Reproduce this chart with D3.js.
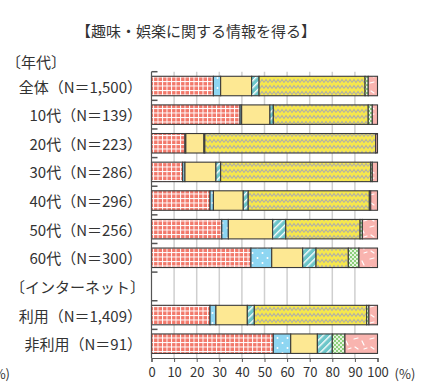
<!DOCTYPE html>
<html>
<head>
<meta charset="utf-8">
<script src="https://cdn.jsdelivr.net/npm/d3@7"></script>
<style>
  html, body { margin: 0; padding: 0; background: #fff; }
  svg { display: block; font-family: "Noto Sans CJK JP", sans-serif; }
</style>
</head>
<body>
<div id="chart"></div>
<script>
// ── Data ────────────────────────────────────────────────────────────────
const rowLabels = [
  '全体（N＝1,500）', '10代（N＝139）', '20代（N＝223）', '30代（N＝286）',
  '40代（N＝296）', '50代（N＝256）', '60代（N＝300）',
  null, // 〔インターネット〕 header slot
  '利用（N＝1,409）', '非利用（N＝91）'
];
const seriesKeys = ['s1', 's2', 's3', 's4', 's5', 's6', 's7'];
const values = [
  [27.4, 3.2, 13.7, 3.3, 46.9, 1.4, 4.1],
  [39.2, 0.7, 12.5, 1.5, 42.0, 1.8, 2.3],
  [14.8, 0.4, 8.0, 0.4, 75.6, 0.0, 0.8],
  [13.8, 1.0, 13.7, 2.1, 66.4, 0.7, 2.3],
  [25.9, 1.5, 13.2, 2.2, 53.6, 0.6, 3.0],
  [31.1, 2.9, 19.6, 5.8, 32.9, 1.0, 6.7],
  [44.0, 9.2, 13.7, 5.9, 14.3, 4.7, 8.2],
  null,
  [25.9, 2.6, 13.9, 3.1, 49.7, 1.0, 3.8],
  [53.9, 7.7, 11.8, 6.6, 0.0, 5.6, 14.4]
];
const xTicks = [0, 10, 20, 30, 40, 50, 60, 70, 80, 90, 100];

// ── Layout ──────────────────────────────────────────────────────────────
const W = 424, H = 388;
const X0 = 151.5, X1 = 377.5;
const Y0 = 71.7, Y1 = 358;

const svg = d3.select('#chart').append('svg')
  .attr('width', W).attr('height', H);

const x = d3.scaleLinear().domain([0, 100]).range([X0, X1]);
const y = d3.scaleBand().domain(d3.range(rowLabels.length))
  .range([Y0, Y1]).paddingInner(0.32).paddingOuter(0.16);

// ── Patterns ────────────────────────────────────────────────────────────
const defs = svg.append('defs');

function pat(id, w, h) {
  return defs.append('pattern').attr('id', id)
    .attr('patternUnits', 'userSpaceOnUse')
    .attr('width', w).attr('height', h);
}

// grid on salmon
let p = pat('p1', 4.5, 4.5);
p.append('rect').attr('width', 4.5).attr('height', 4.5).attr('fill', '#fff');
p.append('rect').attr('x', 1).attr('y', 1).attr('width', 3.5).attr('height', 3.5).attr('fill', '#f2786a');

// blue with dots
p = pat('p2', 10, 10);
p.append('rect').attr('width', 10).attr('height', 10).attr('fill', '#8ed6f2');
p.append('circle').attr('cx', 2.5).attr('cy', 3).attr('r', 1).attr('fill', '#fff');
p.append('circle').attr('cx', 7.5).attr('cy', 8).attr('r', 1).attr('fill', '#fff');

// plain yellow
p = pat('p3', 4, 4);
p.append('rect').attr('width', 4).attr('height', 4).attr('fill', '#fde893');

// teal with diagonal stripes
p = pat('p4', 5, 5).attr('patternTransform', 'rotate(-45)');
p.append('rect').attr('width', 5).attr('height', 5).attr('fill', '#6cc6c9');
p.append('rect').attr('width', 5).attr('height', 1.4).attr('fill', '#fff');

// yellow zigzag
p = pat('p5', 8, 6);
p.append('rect').attr('width', 8).attr('height', 6).attr('fill', '#f7e84c');
p.append('path').attr('d', 'M0,4.5 L2,1.5 L4,4.5 L6,1.5 L8,4.5')
  .attr('fill', 'none').attr('stroke', '#b4b2a4').attr('stroke-width', 1.2);

// green checker
p = pat('p6', 4, 4);
p.append('rect').attr('width', 4).attr('height', 4).attr('fill', '#8dcf7c');
p.append('rect').attr('width', 2).attr('height', 2).attr('fill', '#e6f4e0');
p.append('rect').attr('x', 2).attr('y', 2).attr('width', 2).attr('height', 2).attr('fill', '#e6f4e0');

// pink with dashes
p = pat('p7', 16, 16);
p.append('rect').attr('width', 16).attr('height', 16).attr('fill', '#f9b4af');
p.append('path').attr('d', 'M2,3 L6,2 M10,5 L12,9 M3,11 L6,13 M12,13 L15,12')
  .attr('stroke', '#fff').attr('stroke-width', 1.2).attr('stroke-linecap', 'round');

// ── Gridlines ───────────────────────────────────────────────────────────
svg.append('g').selectAll('line')
  .data(xTicks.filter(t => t > 0 && t < 100))
  .join('line')
  .attr('x1', d => x(d)).attr('x2', d => x(d))
  .attr('y1', Y0).attr('y2', Y1)
  .attr('stroke', '#cfcfcf').attr('stroke-width', 1.5);

// ── Bars ────────────────────────────────────────────────────────────────
const rows = values.map((v, i) => ({ i, v })).filter(d => d.v);
rows.forEach(r => {
  let acc = 0;
  const g = svg.append('g');
  r.v.forEach((val, k) => {
    if (val <= 0) return;
    g.append('rect')
      .attr('x', x(acc)).attr('y', y(r.i))
      .attr('width', x(acc + val) - x(acc)).attr('height', y.bandwidth())
      .attr('fill', `url(#p${k + 1})`)
      .attr('stroke', '#3a3a3a').attr('stroke-width', 1.1);
    acc += val;
  });
});

// ── Left axis with inner ticks at band edges ─────────────────────────────
svg.append('line')
  .attr('x1', X0).attr('x2', X0).attr('y1', Y0).attr('y2', Y1)
  .attr('stroke', '#555').attr('stroke-width', 1.2);
const edges = d3.range(rowLabels.length).map(i => y(i) - y.step() * 0.16);
svg.append('g').selectAll('line').data(edges).join('line')
  .attr('x1', X0).attr('x2', X0 + 6)
  .attr('y1', d => d).attr('y2', d => d)
  .attr('stroke', '#555').attr('stroke-width', 1.5);

// ── Bottom axis ─────────────────────────────────────────────────────────
const xAxis = svg.append('g').attr('transform', `translate(0,${Y1})`)
  .call(d3.axisBottom(x).tickValues(xTicks).tickSize(4).tickFormat(d => d));
xAxis.select('.domain').attr('stroke', '#555').attr('stroke-width', 1.2);
xAxis.selectAll('.tick line').attr('stroke', '#555');
xAxis.selectAll('.tick text')
  .attr('y', 10).attr('font-size', 13).attr('fill', '#333')
  .attr('font-family', '"Noto Sans CJK JP", sans-serif');

svg.append('text').attr('x', 405).attr('y', 379)
  .attr('text-anchor', 'middle').attr('font-size', 13).attr('fill', '#333')
  .text('(%)');
svg.append('text').attr('x', 10).attr('y', 379)
  .attr('text-anchor', 'end').attr('font-size', 13).attr('fill', '#333')
  .text('(%)');

// ── Row labels ──────────────────────────────────────────────────────────
rowLabels.forEach((lbl, i) => {
  if (!lbl) return;
  svg.append('text')
    .attr('x', 142).attr('y', y(i) + y.bandwidth() / 2)
    .attr('text-anchor', 'end').attr('dominant-baseline', 'central')
    .attr('font-size', 15).attr('fill', '#333')
    .text(lbl);
});

svg.append('text').attr('x', 6).attr('y', y(0) - y.step() * 0.16 - 10)
  .attr('dominant-baseline', 'central')
  .attr('font-size', 15).attr('fill', '#333').text('〔年代〕');
svg.append('text').attr('x', 10).attr('y', y(7) + y.bandwidth() / 2)
  .attr('dominant-baseline', 'central')
  .attr('font-size', 15).attr('fill', '#333').text('〔インターネット〕');

// ── Title ───────────────────────────────────────────────────────────────
svg.append('text').attr('x', 196).attr('y', 30)
  .attr('text-anchor', 'middle').attr('dominant-baseline', 'central')
  .attr('font-size', 15).attr('fill', '#333')
  .text('【趣味・娯楽に関する情報を得る】');
</script>
</body>
</html>
